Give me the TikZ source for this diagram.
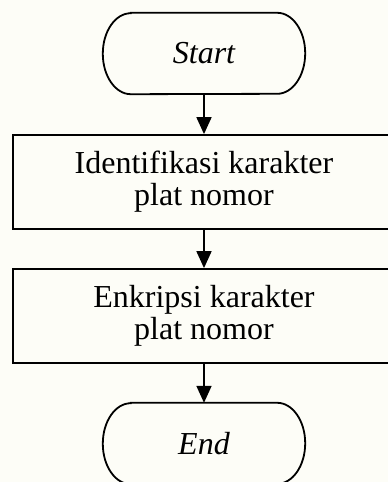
\documentclass[tikz,border=0pt]{standalone}
\usepackage{fontspec}
\setmainfont{Liberation Serif}
\usetikzlibrary{arrows.meta}
\definecolor{paper}{HTML}{FDFDF7}
\tikzset{
  line/.style={line width=1.8pt, draw=black},
  flow/.style={line, -{Triangle[length=17pt,width=15pt]}},
  procbox/.style={line, rectangle, minimum width=382pt, minimum height=94pt,
    align=center, font=\fontsize{32pt}{32pt}\selectfont, inner sep=0pt},
  termbox/.style={rectangle, draw=none, minimum width=202pt, minimum height=81pt,
    font=\fontsize{32pt}{32pt}\selectfont\itshape, inner sep=0pt},
}
% outline of a terminal node with elliptic ends
\newcommand{\termoutline}[1]{%
  \draw[line] ([xshift=28pt]#1.north west) -- ([xshift=-28pt]#1.north east)
    arc[start angle=90, end angle=-90, x radius=28pt, y radius=40.5pt]
    -- ([xshift=28pt]#1.south west)
    arc[start angle=270, end angle=90, x radius=28pt, y radius=40.5pt] -- cycle;}
\begin{document}
\begin{tikzpicture}[x=1pt, y=-1pt]
  \useasboundingbox (0,0) rectangle (388,482);
  \fill[paper] (0,0) rectangle (388,482);
  \clip (0,0) rectangle (388,482);

  \node[termbox] (start) at (204,53.5) {Start};
  \termoutline{start}

  \node[procbox] (ident) at (204,182) {Identifikasi karakter\\plat nomor};
  \node[procbox] (enkr) at (204,316) {Enkripsi karakter\\plat nomor};

  \node[termbox] (end) at (204,443.5) {End};
  \termoutline{end}

  \draw[flow] (start.south) -- (ident.north);
  \draw[flow] (ident.south) -- (enkr.north);
  \draw[flow] (enkr.south) -- (end.north);
\end{tikzpicture}
\end{document}
